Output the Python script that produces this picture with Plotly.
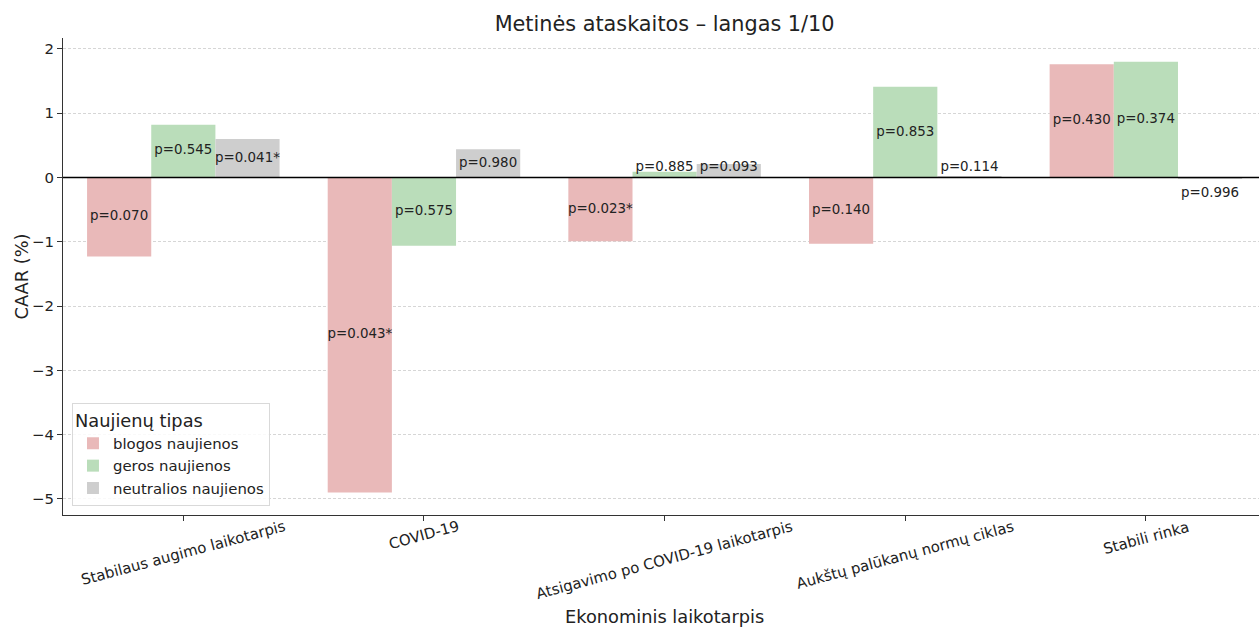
import plotly.graph_objects as go

# Economic periods (x categories)
periods = [
    "Stabilaus augimo laikotarpis",
    "COVID-19",
    "Atsigavimo po COVID-19 laikotarpis",
    "Aukštų palūkanų normų ciklas",
    "Stabili rinka",
]

# CAAR (%) by news type
bad_news = [-1.23, -4.90, -0.99, -1.03, 1.76]
good_news = [0.82, -1.06, 0.09, 1.41, 1.80]
neutral_news = [0.60, 0.44, 0.21, 0.01, -0.01]

# p-values shown on each bar
bad_p = ["p=0.070", "p=0.043*", "p=0.023*", "p=0.140", "p=0.430"]
good_p = ["p=0.545", "p=0.575", "p=0.885", "p=0.853", "p=0.374"]
neutral_p = ["p=0.041*", "p=0.980", "p=0.093", "p=0.114", "p=0.996"]

series = [
    ("blogos naujienos", bad_news, bad_p, "rgb(233,185,185)"),
    ("geros naujienos", good_news, good_p, "rgb(186,221,186)"),
    ("neutralios naujienos", neutral_news, neutral_p, "rgb(206,206,206)"),
]

FONT = "DejaVu Sans, Liberation Sans, sans-serif"
TXT = "#222222"
n_series = len(series)
group_width = 0.8
bar_w = group_width / n_series


def label_y(v):
    # centre of the bar, pushed off the axis for very short bars
    half = v / 2
    if abs(half) >= 0.16:
        return half
    return 0.16 if v >= 0 else -0.25


fig = go.Figure()
xs = list(range(len(periods)))
for name, vals, pvals, color in series:
    fig.add_trace(go.Bar(
        x=xs, y=vals, name=name,
        marker=dict(color=color, line=dict(width=0)),
        hoverinfo="skip",
    ))
for k, (name, vals, pvals, color) in enumerate(series):
    offset = (k - (n_series - 1) / 2) * bar_w
    fig.add_trace(go.Scatter(
        x=[x + offset for x in xs],
        y=[label_y(v) for v in vals],
        text=pvals,
        mode="text",
        textposition="middle center",
        textfont=dict(family=FONT, size=13.4, color=TXT),
        showlegend=False,
        hoverinfo="skip",
    ))

# Category labels, rotated and centred under each group
for x, lab in zip(xs, periods):
    fig.add_annotation(
        x=x, y=0.0, xref="x", yref="paper",
        text=lab, showarrow=False, textangle=-15,
        xanchor="center", yanchor="top",
        font=dict(family=FONT, size=14.9, color=TXT),
    )

fig.add_annotation(
    x=0.503, y=-0.212, xref="paper", yref="paper",
    text="Ekonominis laikotarpis", showarrow=False,
    xanchor="center", yanchor="middle",
    font=dict(family=FONT, size=17.8, color=TXT),
)

fig.add_annotation(
    x=-0.0343, y=0.5, xref="paper", yref="paper",
    text="CAAR (%)", showarrow=False, textangle=-90,
    xanchor="center", yanchor="middle",
    font=dict(family=FONT, size=17.8, color=TXT),
)

# Horizontal reference line at zero, drawn above the bars
fig.add_shape(type="line", xref="paper", yref="y", x0=0, x1=1, y0=0, y1=0,
              line=dict(color="black", width=1.4), layer="above")

fig.update_layout(
    width=1259, height=628,
    margin=dict(l=63, r=0, t=38, b=113),
    paper_bgcolor="white", plot_bgcolor="white",
    barmode="group", bargap=1 - group_width, bargroupgap=0,
    font=dict(family=FONT, color=TXT),
    title=dict(
        text="Metinės ataskaitos – langas 1/10",
        x=0.503, xref="paper", xanchor="center",
        y=1 - 24 / 628, yref="container", yanchor="middle",
        font=dict(family=FONT, size=20.8, color=TXT),
    ),
    legend=dict(
        title=dict(text="Naujienų tipas", font=dict(family=FONT, size=17.8, color=TXT)),
        x=0.0075, y=0.019, xanchor="left", yanchor="bottom",
        bgcolor="rgba(255,255,255,0.85)", bordercolor="#d9d9d9", borderwidth=1,
        font=dict(family=FONT, size=14.9, color=TXT),
        itemwidth=30,
        tracegroupgap=0,
    ),
    xaxis=dict(
        range=[-0.5, 4.47], showgrid=False, zeroline=False,
        showline=True, linecolor="#333333", linewidth=1.2,
        tickmode="array", tickvals=xs, ticktext=[""] * len(xs),
        ticks="outside", ticklen=5, tickcolor="#333333", tickwidth=1,
        showticklabels=False,
    ),
    yaxis=dict(
        range=[-5.25, 2.17], tickmode="array", tickvals=[-5, -4, -3, -2, -1, 0, 1, 2],
        showgrid=True, gridcolor="#d6d6d6", gridwidth=0.8, griddash="3px,2px",
        zeroline=False,
        showline=True, linecolor="#333333", linewidth=1.2,
        ticks="outside", ticklen=5, tickcolor="#333333", tickwidth=1,
        tickfont=dict(family=FONT, size=14.9, color=TXT),
    ),
)

fig.write_html("out.html")
